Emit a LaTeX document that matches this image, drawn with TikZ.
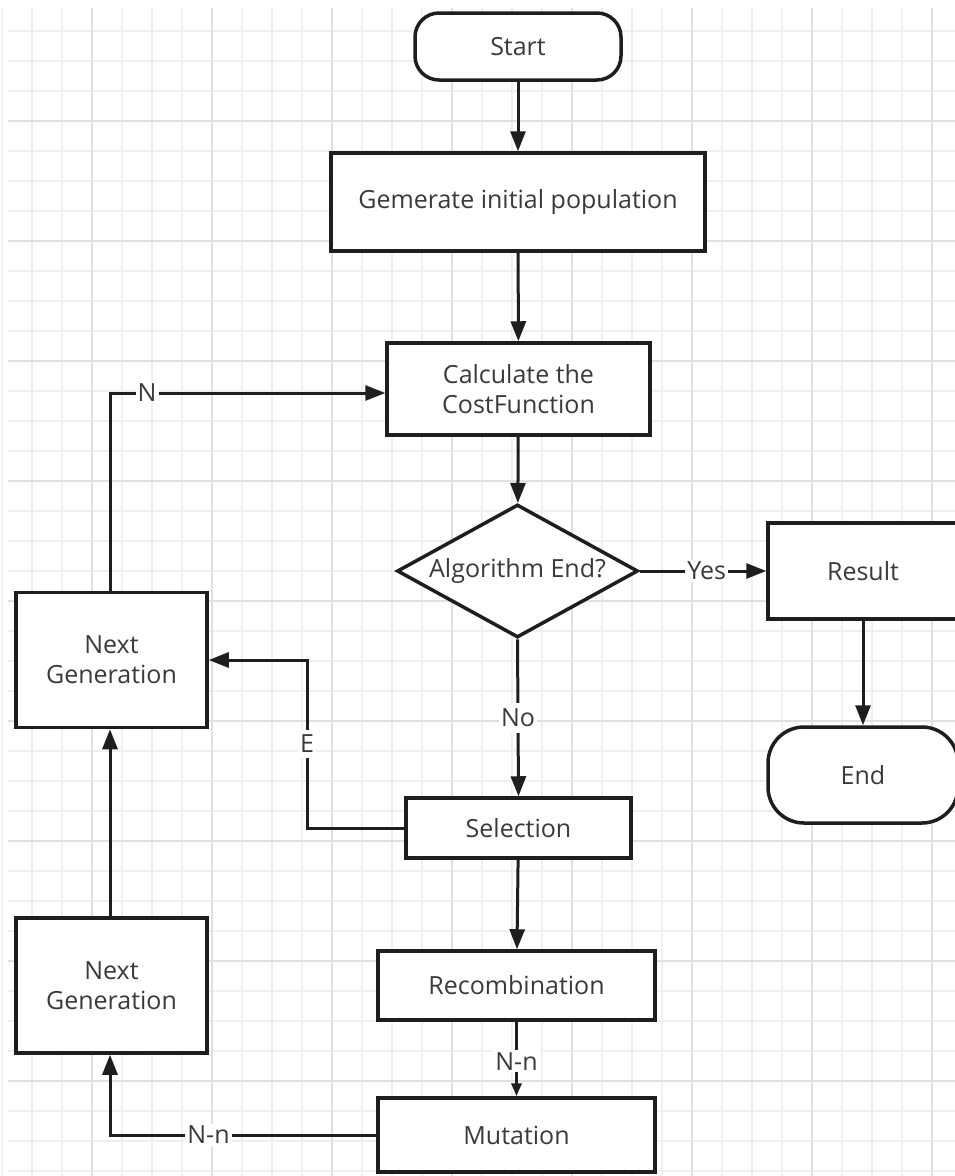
\documentclass[tikz,border=0pt]{standalone}
\usepackage{fontspec}
\setmainfont{Open Sans}
\usetikzlibrary{arrows.meta,shapes.geometric}
\definecolor{gridminor}{HTML}{EFEFEF}
\definecolor{gridmajor}{HTML}{E0E0E0}
\definecolor{txt}{HTML}{3A3A3A}
\definecolor{ln}{HTML}{1E1E1E}
\begin{document}
\begin{tikzpicture}[x=1pt,y=-1pt,
  box/.style={draw=ln, line width=3.5pt, fill=white, text=txt,
    font=\fontsize{25}{30}\selectfont, align=center, inner sep=0pt},
  term/.style={box, rounded corners=#1},
  dia/.style={box, diamond, aspect=1.81},
  arr/.style={draw=ln, line width=3pt, -{Triangle[length=20pt,width=15pt]}},
  lbl/.style={fill=white, text=txt, font=\fontsize{25}{30}\selectfont, inner sep=2pt}
]
\clip (0,0) rectangle (955,1176);
\fill[white] (0,0) rectangle (955,1176);
% grid
\foreach \x in {2,32,...,952} \draw[gridminor, line width=1.8pt] (\x,8) -- (\x,1176);
\foreach \y in {31,61,...,1171} \draw[gridminor, line width=1.8pt] (8,\y) -- (955,\y);
\foreach \x in {92,212,...,952} \draw[gridmajor, line width=2.5pt] (\x,8) -- (\x,1176);
\foreach \y in {121,241,...,1171} \draw[gridmajor, line width=2.5pt] (8,\y) -- (955,\y);

% nodes
\node[term=24pt, minimum width=206pt, minimum height=67pt] (start) at (518,46.5) {Start};
\node[box, minimum width=374pt, minimum height=98pt] (gen) at (518,202) {Gemerate initial population};
\node[box, minimum width=263pt, minimum height=92pt] (calc) at (518.5,389) {Calculate the\\CostFunction};
\node[dia, minimum width=241pt, minimum height=133pt] (dec) at (517.5,571) {Algorithm End?};
\node[box, minimum width=190pt, minimum height=96pt] (res) at (863,571) {Result};
\node[term=36pt, minimum width=190pt, minimum height=96pt] (end) at (863,775) {End};
\node[box, minimum width=225pt, minimum height=60pt] (sel) at (518.5,828) {Selection};
\node[box, minimum width=277pt, minimum height=69pt] (rec) at (516.5,985.5) {Recombination};
\node[box, minimum width=277pt, minimum height=74pt] (mut) at (516.5,1135) {Mutation};
\node[box, minimum width=191pt, minimum height=135pt] (ng1) at (111.5,660) {Next\\Generation};
\node[box, minimum width=191pt, minimum height=135pt] (ng2) at (111.5,985.5) {Next\\Generation};

% connectors
\draw[arr] (start) -- (gen);
\draw[arr] (gen) -- (calc);
\draw[arr] (calc) -- (dec);
\draw[arr] (dec.east) -- node[lbl, pos=0.53]{Yes} (res.west);
\draw[arr] (res) -- (end);
\draw[arr] (dec.south) -- node[lbl, pos=0.5, inner ysep=6pt]{No} (sel.north);
\draw[arr] (sel) -- (rec);
\draw[draw=ln, line width=3pt, -{Triangle[length=13pt,width=10pt]}] (rec) -- node[lbl, pos=0.53]{N-n} (mut);
\coordinate (e1) at (307,828);
\coordinate (e2) at (307,660);
\draw[arr] (sel.west) -- (e1) -- node[lbl, pos=0.5, inner ysep=5pt]{E} (e2) -- (ng1.east);
\coordinate (m1) at (110,1135);
\draw[arr] (mut.west) -- node[lbl, pos=0.63]{N-n} (m1) -- (ng2.south -| m1);
\draw[arr] (ng2.north -| m1) -- (ng1.south -| m1);
\coordinate (n1) at (110,393);
\draw[arr] (ng1.north -| n1) -- (n1) -- node[lbl, pos=0.135]{N} (calc.west |- n1);
\end{tikzpicture}
\end{document}
